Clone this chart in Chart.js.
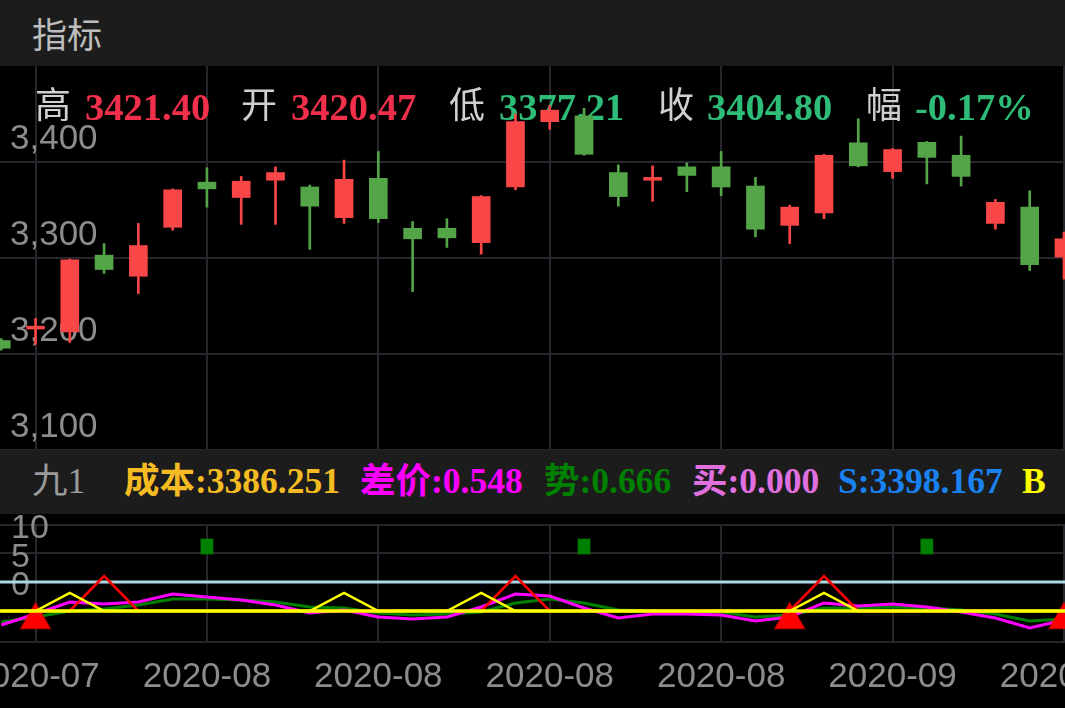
<!DOCTYPE html>
<html>
<head>
<meta charset="utf-8">
<script src="https://cdn.jsdelivr.net/npm/chart.js@4.4.0/dist/chart.umd.min.js"></script>
<style>
body { margin: 0; background: #000; width: 1065px; height: 708px; overflow: hidden; position: relative; font-family: "Noto Sans CJK SC", sans-serif; }
.bar { position: absolute; left: 0; width: 1065px; background: #1c1c1c; }
.t { position: absolute; white-space: nowrap; line-height: 1; }
.ind { font-family: "Liberation Serif", "Noto Sans CJK SC", serif; font-weight: bold; font-size: 35.5px; top: 464px; }
canvas { position: absolute; left: 0; }
</style>
</head>
<body>
<div class="bar" style="top:0;height:66px"></div>
<div class="t" style="left:32px;top:15px;font-size:35px;color:#bdbdbd">指标</div>

<canvas id="main" width="1065" height="384" style="top:66px"></canvas>

<div class="bar" style="top:450px;height:64px"></div>
<div class="t ind" style="left:32px;font-weight:normal;color:#9a9a9a">九1</div>
<div class="t ind" style="left:124px;color:#f5bb22">成本:3386.251</div>
<div class="t ind" style="left:360px;color:#ff00ff">差价:0.548</div>
<div class="t ind" style="left:544px;color:#008000">势:0.666</div>
<div class="t ind" style="left:692px;color:#e070e0">买:0.000</div>
<div class="t ind" style="left:838px;color:#1a82f0">S:3398.167</div>
<div class="t ind" style="left:1022px;color:#ffff00">B</div>

<canvas id="ind" width="1065" height="194" style="top:514px"></canvas>

<script>
// candles, one per trading day (first and last are cut by the edges)
const opens  = [3214, 3226, 3223, 3303, 3281, 3332, 3379, 3363, 3381, 3374, 3342, 3383, 3331, 3331, 3316, 3374,
                3442, 3448, 3389, 3381, 3395, 3395, 3375, 3334, 3347, 3420, 3390, 3420.47, 3407, 3336, 3353, 3301];
const highs  = [3216, 3237, 3299, 3315, 3336, 3372, 3394, 3385, 3395, 3376, 3402, 3411, 3338, 3341, 3365, 3450,
                3459, 3456, 3397, 3396, 3399, 3411, 3384, 3355, 3408, 3445, 3414, 3421.40, 3427, 3361, 3370, 3327];
const lows   = [3204, 3210, 3212, 3284, 3263, 3329, 3353, 3335, 3335, 3309, 3336, 3337, 3265, 3311, 3304, 3371,
                3434, 3407, 3354, 3359, 3369, 3365, 3322, 3315, 3341, 3395, 3383, 3377.21, 3375, 3330, 3287, 3278];
const closes = [3206, 3229, 3298, 3288, 3313, 3371, 3372, 3380, 3389, 3354, 3382, 3341, 3320, 3321, 3364, 3442,
                3454, 3408, 3364, 3384, 3386, 3374, 3330, 3353, 3407, 3396, 3413, 3404.80, 3385, 3358, 3293, 3320];
const selected = 27;          // the day shown in the quote line
const selectedChange = '-0.17%';

const priceTicks = [3100, 3200, 3300, 3400];
const tickPos = [0, 5, 10, 15, 20, 25, 30];
const tickLabels = ['2020-07', '2020-08', '2020-08', '2020-08', '2020-08', '2020-09', '2020-09'];

// indicator panel
const trendLine = [-7.02, -6.14, -5.09, -4.74, -4.04, -2.98, -2.98, -3.16, -3.51, -4.39, -4.56, -5.44, -5.79, -5.61, -5.26, -3.68,
                   -2.98, -3.68, -4.91, -5.09, -5.26, -5.26, -6.14, -5.79, -4.56, -4.56, -4.39, -4.56, -4.91, -5.61, -6.84, -6.49];
const spreadLine = [-7.54, -5.61, -3.51, -3.86, -3.51, -2.11, -2.63, -3.16, -4.04, -5.44, -4.91, -6.14, -6.49, -6.14, -4.39, -2.11,
                    -2.46, -4.56, -6.32, -5.61, -5.61, -5.79, -6.84, -6.14, -3.68, -4.21, -3.86, -4.39, -5.26, -6.32, -8.07, -6.67];
const yellowLine = [-5.09, -5.09, -1.93, -5.09, -5.09, -5.09, -5.09, -5.09, -5.09, -5.09, -1.93, -5.09, -5.09, -5.09, -1.93, -5.09,
                    -5.09, -5.09, -5.09, -5.09, -5.09, -5.09, -5.09, -5.09, -1.93, -5.09, -5.09, -5.09, -5.09, -5.09, -5.09, -5.09];
const redLine = [-5.09, -5.09, -5.09, 1.05, -5.09, -5.09, -5.09, -5.09, -5.09, -5.09, -5.09, -5.09, -5.09, -5.09, -5.09, 1.05,
                 -5.09, -5.09, -5.09, -5.09, -5.09, -5.09, -5.09, -5.09, 1.05, -5.09, -5.09, -5.09, -5.09, -5.09, -5.09, -5.09];
const baseLevel = -5.09;
const zeroLevel = 0;
const buyDays = [0, 22, 30];
const buyLevel = -6.67;
const markDays = [5, 16, 26];
const markRange = [4.91, 7.54];
const indTicks = [0, 5, 10];

const gridColor = '#26262c';
const tickColor = '#8c8c8c';
const upColor = '#f94646';
const downColor = '#53a548';
const quoteRed = '#f0304a';
const quoteGreen = '#2dbd78';

const days = opens.map((_, i) => i - 1);
const candleColors = opens.map((o, i) => closes[i] >= o ? upColor : downColor);
const xMin = -1.036, xMax = 30.03;

function setTicks(list) {
    return scale => { scale.ticks = list.map(v => ({ value: v })); };
}

// quote line sits above the grid but under the candles
const quoteItems = [
    { text: '高', x: 35 }, { text: highs[selected].toFixed(2), x: 85, color: quoteRed },
    { text: '开', x: 241 }, { text: opens[selected].toFixed(2), x: 291, color: quoteRed },
    { text: '低', x: 449 }, { text: lows[selected].toFixed(2), x: 499, color: quoteGreen },
    { text: '收', x: 658 }, { text: closes[selected].toFixed(2), x: 707, color: quoteGreen },
    { text: '幅', x: 866 }, { text: selectedChange, x: 915, color: quoteGreen }
];

const quotePlugin = {
    id: 'quote',
    beforeDatasetsDraw(chart) {
        const ctx = chart.ctx;
        ctx.save();
        ctx.textBaseline = 'alphabetic';
        quoteItems.forEach(item => {
            if (item.color) {
                ctx.font = 'bold 38.5px "Liberation Serif"';
                ctx.fillStyle = item.color;
                ctx.fillText(item.text, item.x, 54);
            } else {
                ctx.font = '36px "Noto Sans CJK SC"';
                ctx.fillStyle = '#d0d0d0';
                ctx.fillText(item.text, item.x, 52);
            }
        });
        ctx.restore();
    }
};

new Chart(document.getElementById('main'), {
    type: 'bar',
    data: {
        datasets: [
            { data: days.map((x, i) => ({ x, y: [lows[i], highs[i]] })), backgroundColor: candleColors, barThickness: 2, grouped: false },
            { data: days.map((x, i) => ({ x, y: [opens[i], closes[i]] })), backgroundColor: candleColors, barThickness: 18, grouped: false }
        ]
    },
    options: {
        responsive: false,
        animation: false,
        events: [],
        layout: { padding: 0, autoPadding: false },
        plugins: { legend: { display: false }, tooltip: { enabled: false } },
        scales: {
            x: {
                type: 'linear', min: xMin, max: xMax, offset: false,
                grid: { color: gridColor, lineWidth: 2, drawTicks: false, offset: false },
                border: { display: false },
                ticks: { display: false },
                afterBuildTicks: setTicks(tickPos)
            },
            y: {
                min: 3100, max: 3500, beginAtZero: false,
                grid: { color: gridColor, lineWidth: 2, drawTicks: false },
                border: { display: false },
                ticks: {
                    mirror: true, padding: 10, labelOffset: -23, color: tickColor,
                    font: { size: 35, family: 'Liberation Sans' },
                    callback: v => v.toLocaleString('en-US')
                },
                afterBuildTicks: setTicks(priceTicks),
                afterFit: s => { s.width = 0; s.paddingTop = 0; s.paddingBottom = 0; }
            }
        }
    },
    plugins: [quotePlugin]
});

const pts = arr => arr.map((y, i) => ({ x: days[i], y }));

new Chart(document.getElementById('ind'), {
    type: 'line',
    data: {
        datasets: [
            { type: 'bar', data: markDays.map(x => ({ x, y: markRange })), backgroundColor: '#008000', barThickness: 12, grouped: false, order: 1 },
            { data: [{ x: -2, y: baseLevel }, { x: 31, y: baseLevel }], borderColor: '#ffff00', borderWidth: 3.5, order: 2 },
            { data: pts(yellowLine), borderColor: '#ffff00', borderWidth: 2.5, order: 3 },
            { data: pts(redLine), borderColor: '#ff0000', borderWidth: 2.5, order: 4 },
            { data: buyDays.map(x => ({ x, y: buyLevel })), showLine: false, pointStyle: 'triangle', pointRadius: 17,
              pointBackgroundColor: '#ff0000', pointBorderColor: 'rgba(255,0,0,0.45)', pointBorderWidth: 2, order: 5 },
            { data: pts(spreadLine), borderColor: '#ff00ff', borderWidth: 3, order: 6 },
            { data: pts(trendLine), borderColor: '#008000', borderWidth: 3, order: 7 },
            { data: [{ x: -2, y: zeroLevel }, { x: 31, y: zeroLevel }], borderColor: '#add8e6', borderWidth: 3, order: 8 }
        ]
    },
    options: {
        responsive: false,
        animation: false,
        events: [],
        layout: { padding: { top: 11 }, autoPadding: false },
        elements: { point: { radius: 0 }, line: { tension: 0 } },
        plugins: { legend: { display: false }, tooltip: { enabled: false } },
        scales: {
            x: {
                type: 'linear', min: xMin, max: xMax, offset: false,
                grid: { color: gridColor, lineWidth: 2, drawTicks: false, offset: false },
                border: { display: true, color: gridColor, width: 2 },
                ticks: {
                    color: tickColor, padding: 14, autoSkip: false, maxRotation: 0,
                    font: { size: 35, family: 'Liberation Sans' },
                    callback: (v, i) => tickLabels[i]
                },
                afterBuildTicks: setTicks(tickPos),
                afterFit: s => { s.height = 66; s.paddingLeft = 0; s.paddingRight = 0; }
            },
            y: {
                min: -10.53, max: 10,
                grid: { color: gridColor, lineWidth: 2, drawTicks: false },
                border: { display: false },
                ticks: {
                    mirror: true, padding: 11, labelOffset: 4, color: tickColor,
                    font: { size: 34, family: 'Liberation Sans' }
                },
                afterBuildTicks: setTicks(indTicks),
                afterFit: s => { s.width = 0; s.paddingTop = 0; s.paddingBottom = 0; }
            }
        }
    }
});
</script>
</body>
</html>
